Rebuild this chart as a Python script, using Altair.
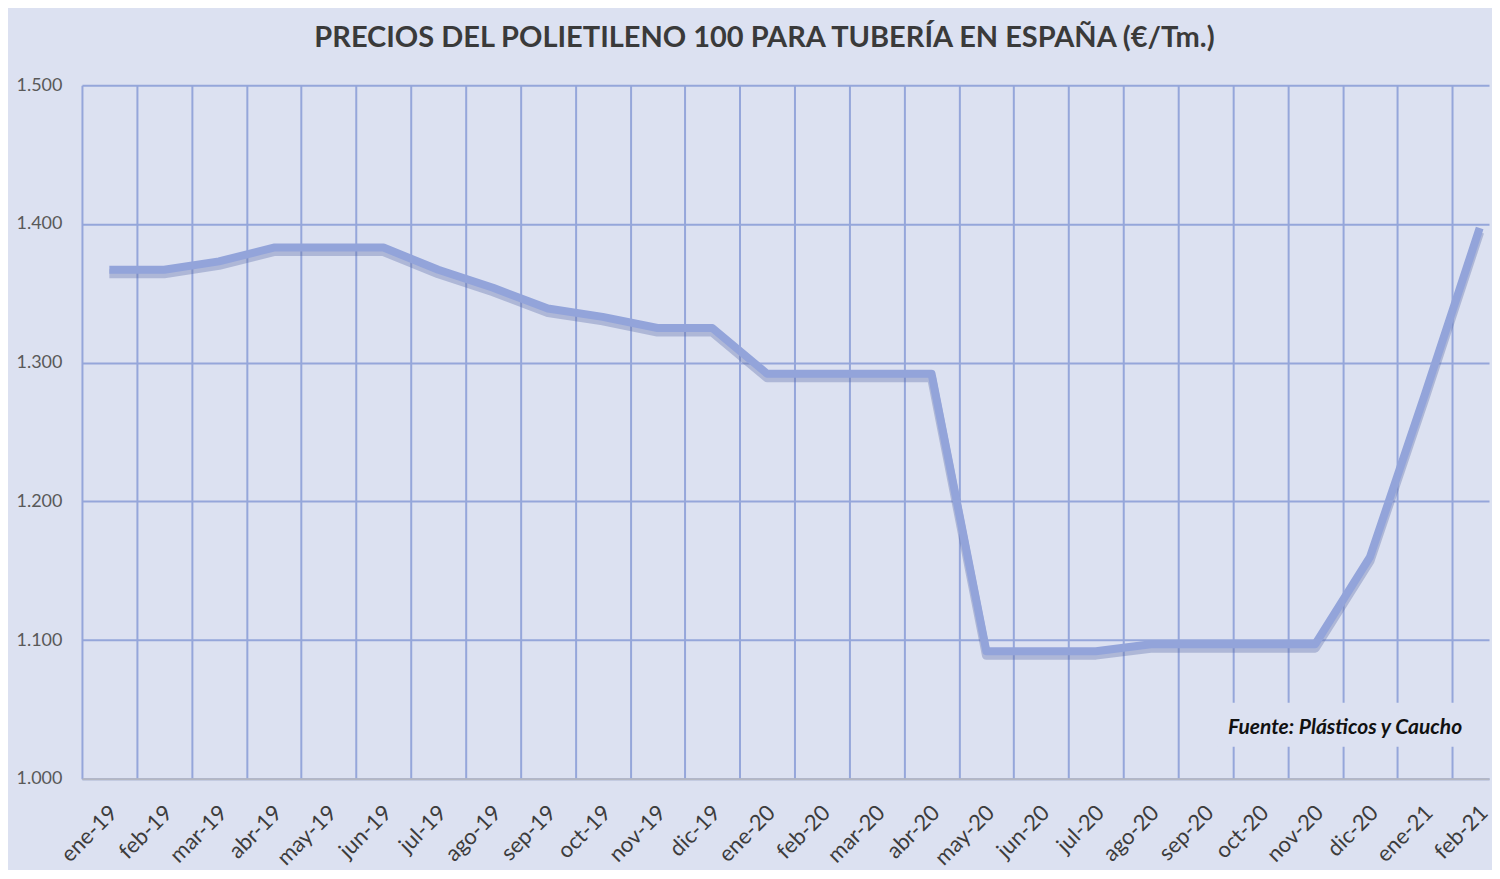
import json
import altair as alt
import pandas as pd

# ---- data ----
months = ["ene-19", "feb-19", "mar-19", "abr-19", "may-19", "jun-19", "jul-19",
          "ago-19", "sep-19", "oct-19", "nov-19", "dic-19",
          "ene-20", "feb-20", "mar-20", "abr-20", "may-20", "jun-20", "jul-20",
          "ago-20", "sep-20", "oct-20", "nov-20", "dic-20",
          "ene-21", "feb-21"]
prices = [1367, 1367, 1373, 1383, 1383, 1383, 1367, 1354, 1339, 1333, 1325, 1325,
          1292, 1292, 1292, 1292, 1092, 1092, 1092, 1097, 1097, 1097, 1097, 1160,
          1277, 1397]
y_ticks = [1000, 1100, 1200, 1300, 1400, 1500]
title_text = "PRECIOS DEL POLIETILENO 100 PARA TUBERÍA EN ESPAÑA (€/Tm.)"
source_note = "Fuente: Plásticos y Caucho"

BG = "#dce1f1"
GRID = "#95a6da"

df = pd.DataFrame({"idx": list(range(len(months))), "month": months, "price": prices})

n = len(months)
x_vals = sorted([i - 0.5 for i in range(n)] + list(range(n)))
label_expr = ("datum.value % 1 === 0 ? " + json.dumps(months) + "[datum.value] : ''")

x_axis = alt.Axis(
    values=x_vals,
    labelExpr=label_expr,
    labelAngle=-45,
    labelAlign="right",
    labelBaseline="top",
    labelPadding=23,
    labelOffset=-3,
    labelFontSize=22,
    labelFont="Lato",
    labelColor="#3c3c3c",
    labelOverlap=False,
    ticks=False,
    grid=True,
    gridColor=GRID,
    gridWidth=2,
    gridOpacity={"condition": {"test": "datum.value % 1 !== 0", "value": 1}, "value": 0},
    domain=True,
    domainColor="#b4b7c2",
    domainWidth=2,
    title=None,
)
y_axis = alt.Axis(
    values=y_ticks,
    labelExpr="replace(format(datum.value, ','), ',', '.')",
    labelFontSize=18,
    labelFont="Lato",
    labelColor="#595959",
    labelPadding=20,
    ticks=False,
    domain=False,
    grid=True,
    gridColor=GRID,
    gridWidth=2,
    title=None,
)

x_scale = alt.Scale(domain=[-0.5, 25.17], nice=False, zero=False)
y_scale = alt.Scale(domain=[1000, 1500], nice=False, zero=False)

base = alt.Chart(df).encode(
    x=alt.X("idx:Q", scale=x_scale, axis=x_axis),
    y=alt.Y("price:Q", scale=y_scale, axis=y_axis),
)

shadow = base.mark_line(color="#5a6aa6", strokeWidth=9, opacity=0.35, yOffset=4,
                        strokeJoin="round")
main = base.mark_line(color="#93a4da", strokeWidth=8, strokeJoin="round")

note_df = pd.DataFrame({"t": [source_note]})
note_box = alt.Chart(note_df).mark_rect(fill=BG).encode(
    x=alt.value(1136), x2=alt.value(1388), y=alt.value(618), y2=alt.value(662)
)
note_text = alt.Chart(note_df).mark_text(
    font="Lato", fontSize=21, fontWeight="bold", fontStyle="italic", color="#111111",
    align="center", baseline="middle"
).encode(text="t:N", x=alt.value(1264), y=alt.value(643))

chart = alt.layer(shadow, main, note_box, note_text).properties(
    width=1408,
    height=694,
    title=alt.TitleParams(
        text=title_text, font="Lato", fontSize=29, fontWeight="bold",
        color="#3a3a3a", anchor="middle", dx=-21, offset=23,
    ),
    padding={"left": 7, "top": 16, "right": 0, "bottom": 0},
).configure(background=BG).configure_view(stroke=None)

chart.save("out.html", embed_options={"renderer": "svg", "actions": False})
